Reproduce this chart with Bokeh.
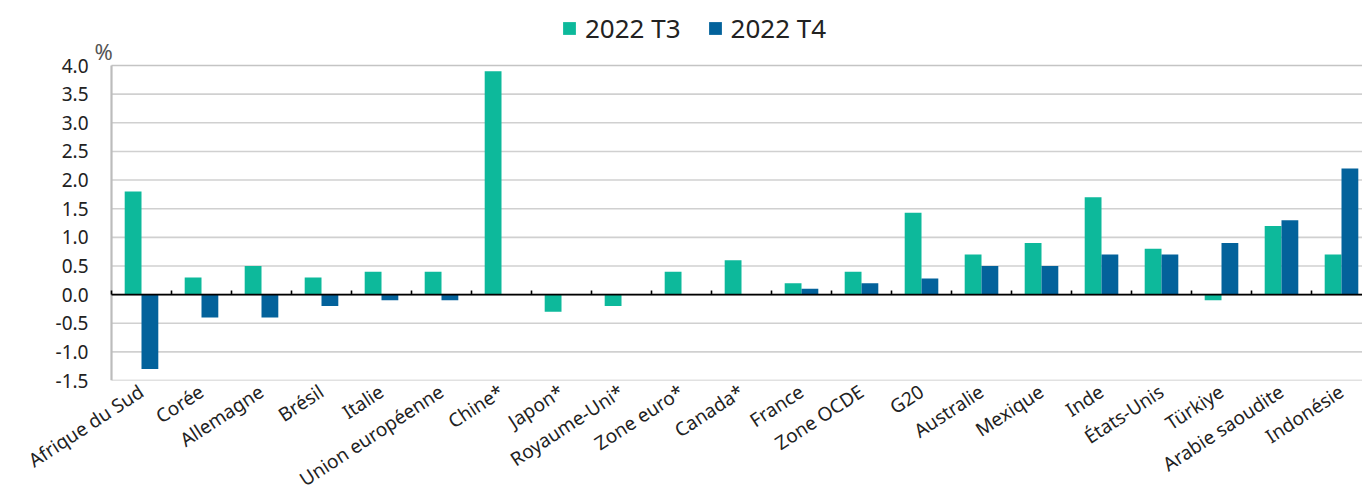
from bokeh.plotting import figure
from bokeh.models import (ColumnDataSource, Range1d, FixedTicker, NumeralTickFormatter,
                          Legend, LegendItem, Label)
from bokeh.embed import file_html
from bokeh.resources import INLINE

categories = ["Afrique du Sud", "Corée", "Allemagne", "Brésil", "Italie", "Union européenne",
              "Chine*", "Japon*", "Royaume-Uni*", "Zone euro*", "Canada*", "France",
              "Zone OCDE", "G20", "Australie", "Mexique", "Inde", "États-Unis", "Türkiye",
              "Arabie saoudite", "Indonésie"]
t3 = [1.8, 0.3, 0.5, 0.3, 0.4, 0.4, 3.9, -0.3, -0.2, 0.4, 0.6, 0.2, 0.4, 1.43, 0.7, 0.9, 1.7, 0.8, -0.1, 1.2, 0.7]
t4 = [-1.3, -0.4, -0.4, -0.2, -0.1, -0.1, None, None, None, None, None, 0.1, 0.2, 0.28, 0.5, 0.5, 0.7, 0.7, 0.9, 1.3, 2.2]
series_names = ["2022 T3", "2022 T4"]
y_ticks = [-1.5, -1.0, -0.5, 0.0, 0.5, 1.0, 1.5, 2.0, 2.5, 3.0, 3.5, 4.0]

n = len(categories)
GREEN = "#0db99b"
BLUE = "#03629b"
FONT = "Noto Sans"
BW = 0.28
X_START, X_END = -0.35, n - 0.15
Y_START, Y_END = y_ticks[0], 5.118

centers = [i + 0.5 for i in range(n)]
src3 = ColumnDataSource(dict(x=[c - BW / 2 for c in centers], top=t3))
x4 = [c + BW / 2 for c, v in zip(centers, t4) if v is not None]
v4 = [v for v in t4 if v is not None]
src4 = ColumnDataSource(dict(x=x4, top=v4))

p = figure(frame_width=1272, frame_height=379, output_backend="svg", toolbar_location=None,
           x_range=Range1d(X_START, X_END), y_range=Range1d(Y_START, Y_END),
           min_border_left=90, min_border_right=0, min_border_top=1, min_border_bottom=104)
p.outline_line_color = None
p.background_fill_color = "white"
p.xgrid.grid_line_color = None
p.ygrid.grid_line_color = None

# horizontal grid lines (from the y ticks), starting at the value axis
grid_colors = ["#c4c4c4" if t in (y_ticks[0], y_ticks[-1]) else "#d0d0d0" for t in y_ticks]
p.segment(x0=[0] * len(y_ticks), x1=[X_END] * len(y_ticks), y0=y_ticks, y1=y_ticks,
          line_color=grid_colors, line_width=1.6)
# value axis line
p.segment(x0=[0], x1=[0], y0=[y_ticks[0]], y1=[y_ticks[-1]], line_color="#bcbcbc", line_width=2.2)

r3 = p.vbar(x="x", top="top", bottom=0, width=BW, source=src3, fill_color=GREEN, line_color=None)
r4 = p.vbar(x="x", top="top", bottom=0, width=BW, source=src4, fill_color=BLUE, line_color=None)

# zero line and category separators
p.segment(x0=[0], x1=[X_END], y0=[0], y1=[0], line_color="black", line_width=1.6)
p.segment(x0=list(range(n)), y0=[0] * n, x1=list(range(n)), y1=[0.07] * n,
          line_color="black", line_width=1.6)

# axes
p.xaxis.ticker = FixedTicker(ticks=centers)
p.xaxis.major_label_overrides = {c: lab for c, lab in zip(centers, categories)}
p.xaxis.major_label_orientation = 0.58
p.xaxis.major_label_text_font = FONT
p.xaxis.major_label_text_font_size = "19px"
p.xaxis.major_label_text_color = "#222222"
p.xaxis.major_label_standoff = 9
p.xaxis.major_tick_line_color = None
p.xaxis.minor_tick_line_color = None
p.xaxis.major_tick_out = 0
p.xaxis.axis_line_color = None

p.yaxis.ticker = FixedTicker(ticks=y_ticks)
p.yaxis.formatter = NumeralTickFormatter(format="0.0")
p.yaxis.major_label_text_font = FONT
p.yaxis.major_label_text_font_size = "19px"
p.yaxis.major_label_text_color = "#222222"
p.yaxis.major_tick_line_color = None
p.yaxis.minor_tick_line_color = None
p.yaxis.major_tick_out = 0
p.yaxis.major_tick_in = 0
p.yaxis.major_label_standoff = 2
p.yaxis.axis_line_color = None

p.add_layout(Label(x=0, y=y_ticks[-1], text="%", x_offset=-17, y_offset=0,
                   text_font=FONT, text_font_size="22px", text_color="#555555",
                   text_align="left", text_baseline="bottom"))

legend = Legend(items=[LegendItem(label=series_names[0], renderers=[r3]),
                       LegendItem(label=series_names[1], renderers=[r4])],
                orientation="horizontal", location=(471, 334),
                glyph_width=16, glyph_height=16, label_standoff=8, spacing=26,
                padding=0, margin=0, border_line_color=None, background_fill_alpha=0,
                label_text_font=FONT, label_text_font_size="26px", label_text_color="#222222",
                label_height=30)
p.add_layout(legend, "center")

open("out.html", "w").write(file_html(p, INLINE))
